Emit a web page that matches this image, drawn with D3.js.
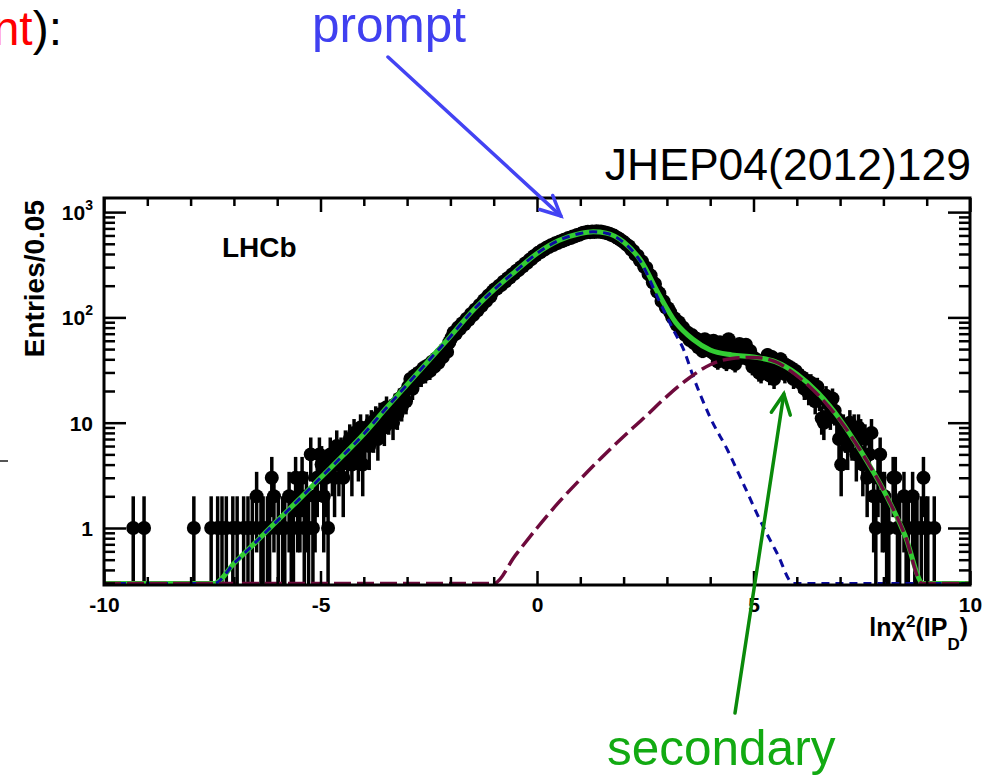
<!DOCTYPE html>
<html>
<head>
<meta charset="utf-8">
<script src="https://cdn.jsdelivr.net/npm/d3@7"></script>
<style>
  body { margin: 0; background: #fff; }
  svg { display: block; }
  text { font-family: "Liberation Sans", Arial, Helvetica, sans-serif; }
</style>
</head>
<body>
<div id="chart"></div>
<script>
// histogram: 0.05 wide bins from -10 to 10, one row per unit of x
const binStart = -10;
const binWidth = 0.05;
const counts = [
  0,0,0,0,0,0,0,0,0,0,0,0,0,1,0,0,0,0,1,0,
  0,0,0,0,0,0,0,0,0,0,0,0,0,0,0,0,0,0,0,0,
  0,1,0,0,0,0,0,0,0,1,0,0,1,0,1,0,1,0,0,1,
  0,1,0,0,1,0,1,0,1,0,2,0,1,1,0,1,1,3,2,0,
  1,0,1,1,0,2,1,1,3,2,2,3,1,2,1,5,1,2,3,5,
  4,2,3,1,5,4,3,6,4,5,3,6,5,7,4,8,6,5,9,4,
  7,9,6,10,8,11,7,12,10,9,14,11,13,10,15,12,17,14,19,16,
  22,26,21,28,25,30,27,33,29,35,31,38,34,41,37,45,42,50,47,58,
  64,72,70,80,78,88,86,97,95,108,105,119,116,131,129,146,143,161,158,176,
  185,188,200,203,218,220,236,239,256,259,277,281,300,305,325,330,352,358,381,389,
  410,415,436,440,462,465,485,486,507,508,527,528,547,548,567,568,587,588,607,610,
  625,638,640,652,645,655,648,658,650,654,642,640,628,622,605,598,578,565,545,530,
  510,488,475,440,428,392,385,348,340,302,296,258,250,215,208,176,170,143,142,124,
  122,112,100,98,85,90,76,80,68,72,61,68,57,63,52,60,48,62,50,58,
  47,60,44,38,58,45,52,37,62,43,50,36,48,56,42,45,55,40,48,34,
  41,36,30,29,39,33,44,28,42,26,37,31,40,34,29,35,30,33,26,31,
  29,24,27,21,25,19,24,20,16,22,17,11,10,18,15,12,17,13,11,7,
  4,9,8,6,10,7,9,5,9,8,4,7,3,5,8,2,1,3,5,2,
  2,1,1,0,3,3,1,1,0,2,1,1,0,2,1,1,0,1,3,1,
  1,0,0,1,0,0,0,0,0,0,0,0,0,0,0,0,0,0,0,0
];

// fit curves: [x, entries]
const totalFit = [
  [-10,0],[-7.45,0.29],[-7,0.46],[-6.5,0.73],[-6,1.17],[-5.5,1.86],[-5,3.0],[-4.5,4.8],
  [-4,7.8],[-3.5,13.5],[-3,23],[-2.5,39],[-2,66],[-1.5,114],[-1,182],[-0.5,274],[0,405],
  [0.5,537],[1,627],[1.3,650],[1.6,632],[2,520],[2.4,345],[2.8,170],[3.2,90],[3.6,62],
  [4,49],[4.5,44],[5,42],[5.5,38],[6,29],[6.5,19],[7,10.7],[7.5,5.2],[8,2.3],[8.5,0.85],
  [8.92,0.29],[10,0]
];
const promptFit = [
  [-10,0],[-7.45,0.29],[-7,0.46],[-6.5,0.73],[-6,1.17],[-5.5,1.86],[-5,3.0],[-4.5,4.8],
  [-4,7.8],[-3.5,13.5],[-3,23],[-2.5,39],[-2,66],[-1.5,114],[-1,182],[-0.5,274],[0,405],
  [0.5,537],[1,627],[1.3,650],[1.6,630],[2,515],[2.4,335],[2.8,150],[3.15,76],[3.4,48],
  [3.6,28],[4,11.2],[4.4,5.5],[4.8,2.45],[5.15,1.19],[5.55,0.57],[5.92,0.29],[10,0]
];
const secondaryFit = [
  [-10,0],[-1,0.29],[-0.5,0.55],[0,1.0],[0.5,1.75],[1,2.9],[1.5,4.7],[2,7.4],[2.5,11.4],
  [3,17.8],[3.5,26.3],[4,35.5],[4.5,40.7],[5,41.7],[5.5,38],[6,28],[6.5,18.2],[7,10.5],
  [7.5,5.2],[8,2.3],[8.5,0.85],[8.9,0.29],[10,0]
];

// axis ticks
const xMajor = [-10, -5, 0, 5, 10];
const xMinor = d3.range(-9, 10).filter(v => v % 5 !== 0);
const yMajor = [1, 10, 100, 1000];
const yMajorBase = ["1", "10", "10", "10"];
const yMajorSup = ["", "", "2", "3"];
const yMinor = [0.3,0.4,0.5,0.6,0.7,0.8,0.9, 2,3,4,5,6,7,8,9, 20,30,40,50,60,70,80,90, 200,300,400,500,600,700,800,900];
const yMin = 0.2875, yMax = 1361;

// arrow tips in data coordinates
const promptTip = [0.55, 920];
const secondaryTip = [5.7, 18.7];

const W = 995, H = 779;
const frame = { left: 104, right: 970, top: 198, bottom: 585 };

const svg = d3.select("#chart").append("svg")
  .attr("width", W)
  .attr("height", H);

const x = d3.scaleLinear().domain([-10, 10]).range([frame.left, frame.right]);
const y = d3.scaleLog().domain([yMin, yMax]).range([frame.bottom, frame.top]);
const yc = v => y(Math.max(v, yMin));
// functions below the minimum are drawn just inside the bottom edge, as ROOT does
const yf = v => y(Math.max(v, yMin * 1.035));

svg.append("clipPath").attr("id", "plotclip")
  .append("rect")
    .attr("x", frame.left).attr("y", frame.top)
    .attr("width", frame.right - frame.left)
    .attr("height", frame.bottom - frame.top);

const plot = svg.append("g").attr("clip-path", "url(#plotclip)");

// 1) data points with sqrt(N) errors
const bins = counts
  .map((n, i) => ({ x: binStart + binWidth * (i + 0.5), n }))
  .filter(d => d.n > 0);

plot.append("g").selectAll("line")
  .data(bins)
  .enter().append("line")
    .attr("x1", d => x(d.x)).attr("x2", d => x(d.x))
    .attr("y1", d => yc(d.n - Math.sqrt(d.n)))
    .attr("y2", d => yc(d.n + Math.sqrt(d.n)))
    .attr("stroke", "#000")
    .attr("stroke-width", 3.5);

plot.append("g").selectAll("circle")
  .data(bins)
  .enter().append("circle")
    .attr("cx", d => x(d.x))
    .attr("cy", d => yc(d.n))
    .attr("r", 7)
    .attr("fill", "#000");

// 2) fit components
const line = d3.line()
  .x(d => x(d[0]))
  .y(d => yf(d[1]))
  .curve(d3.curveMonotoneX);

plot.append("path")
  .datum(totalFit)
  .attr("fill", "none")
  .attr("stroke", "#33cc33")
  .attr("stroke-width", 5)
  .attr("d", line);

plot.append("path")
  .datum(promptFit)
  .attr("fill", "none")
  .attr("stroke", "#0b0b9e")
  .attr("stroke-width", 3)
  .attr("stroke-dasharray", "8,6")
  .attr("d", line);

plot.append("path")
  .datum(secondaryFit)
  .attr("fill", "none")
  .attr("stroke", "#6e0a3c")
  .attr("stroke-width", 3.5)
  .attr("stroke-dasharray", "17,6")
  .attr("d", line);

// 3) frame and ticks (ROOT style, ticks inside)
function styleTicks(g) {
  g.select(".domain").remove();
  g.selectAll("line").attr("stroke", "#000").attr("stroke-width", 2.5);
}

svg.append("g")
  .attr("transform", `translate(0,${frame.bottom})`)
  .call(d3.axisBottom(x).tickValues(xMinor).tickSize(-8).tickFormat(""))
  .call(styleTicks);
const xAxisG = svg.append("g")
  .attr("transform", `translate(0,${frame.bottom})`)
  .call(d3.axisBottom(x).tickValues(xMajor).tickSize(-14).tickPadding(12).tickFormat(d => String(d)))
  .call(styleTicks);
xAxisG.selectAll("text")
  .attr("fill", "#000")
  .attr("font-size", "21px")
  .attr("font-weight", "bold")
  .attr("font-family", "'Liberation Sans', Arial, sans-serif");

svg.append("g")
  .attr("transform", `translate(0,${frame.top})`)
  .call(d3.axisTop(x).tickValues(xMinor).tickSize(-8).tickFormat(""))
  .call(styleTicks);
svg.append("g")
  .attr("transform", `translate(0,${frame.top})`)
  .call(d3.axisTop(x).tickValues(xMajor).tickSize(-14).tickFormat(""))
  .call(styleTicks);

[[d3.axisLeft, frame.left], [d3.axisRight, frame.right]].forEach(([ax, pos]) => {
  svg.append("g")
    .attr("transform", `translate(${pos},0)`)
    .call(ax(y).tickValues(yMinor).tickSize(-11).tickFormat(""))
    .call(styleTicks);
  svg.append("g")
    .attr("transform", `translate(${pos},0)`)
    .call(ax(y).tickValues(yMajor).tickSize(-22).tickFormat(""))
    .call(styleTicks);
});

svg.append("rect")
  .attr("x", frame.left).attr("y", frame.top)
  .attr("width", frame.right - frame.left)
  .attr("height", frame.bottom - frame.top)
  .attr("fill", "none")
  .attr("stroke", "#000")
  .attr("stroke-width", 3);

// y tick labels with superscripts
const yLab = svg.append("g").selectAll("text")
  .data(yMajor)
  .enter().append("text")
    .attr("x", 93)
    .attr("y", d => y(d) + 8)
    .attr("text-anchor", "end")
    .attr("font-size", "21px")
    .attr("font-weight", "bold");
yLab.append("tspan").text((d, i) => yMajorBase[i]);
yLab.append("tspan")
  .attr("font-size", "14px")
  .attr("dy", -10)
  .text((d, i) => yMajorSup[i]);

// axis titles
svg.append("text")
  .attr("transform", `translate(44,${frame.top + 2}) rotate(-90)`)
  .attr("text-anchor", "end")
  .attr("font-size", "28px")
  .attr("font-weight", "bold")
  .text("Entries/0.05");

const xTitle = svg.append("text")
  .attr("x", 968)
  .attr("y", 636)
  .attr("text-anchor", "end")
  .attr("font-size", "25px")
  .attr("font-weight", "bold");
xTitle.append("tspan").text("ln\u03c7");
xTitle.append("tspan").attr("font-size", "17px").attr("dy", -9).text("2");
xTitle.append("tspan").attr("dy", 9).text("(IP");
xTitle.append("tspan").attr("font-size", "17px").attr("dy", 14).text("D");
xTitle.append("tspan").attr("dy", -14).text(")");

svg.append("text")
  .attr("x", 222)
  .attr("y", 257)
  .attr("font-size", "28px")
  .attr("font-weight", "bold")
  .text("LHCb");

svg.append("text")
  .attr("x", 971)
  .attr("y", 180)
  .attr("text-anchor", "end")
  .attr("font-size", "44.5px")
  .text("JHEP04(2012)129");

// 4) slide annotations
const head = svg.append("text")
  .attr("x", 62)
  .attr("y", 45)
  .attr("text-anchor", "end")
  .attr("font-size", "48px");
head.append("tspan").attr("fill", "#ff0000").text("nt");
head.append("tspan").attr("fill", "#000").text("):");

svg.append("line")
  .attr("x1", 0).attr("x2", 8)
  .attr("y1", 461).attr("y2", 461)
  .attr("stroke", "#555").attr("stroke-width", 2);

svg.append("text")
  .attr("x", 312)
  .attr("y", 42)
  .attr("font-size", "49.5px")
  .attr("fill", "#4040f0")
  .text("prompt");

svg.append("text")
  .attr("x", 607)
  .attr("y", 765)
  .attr("font-size", "49.5px")
  .attr("fill", "#12aa12")
  .text("secondary");

function arrow(from, tipData, color) {
  const tx = x(tipData[0]), ty = y(tipData[1]);
  const ang = Math.atan2(ty - from[1], tx - from[0]);
  const len = 22, spread = 0.45;
  const g = svg.append("g")
    .attr("stroke", color)
    .attr("stroke-width", 3.5)
    .attr("fill", "none")
    .attr("stroke-linecap", "round");
  g.append("line")
    .attr("x1", from[0]).attr("y1", from[1])
    .attr("x2", tx).attr("y2", ty);
  g.append("polyline")
    .attr("points", [
      [tx - len * Math.cos(ang - spread), ty - len * Math.sin(ang - spread)],
      [tx, ty],
      [tx - len * Math.cos(ang + spread), ty - len * Math.sin(ang + spread)]
    ].map(p => p.join(",")).join(" "));
}

arrow([388, 57], promptTip, "#4343f3");
arrow([735, 713], secondaryTip, "#0a8a0a");
</script>
</body>
</html>
